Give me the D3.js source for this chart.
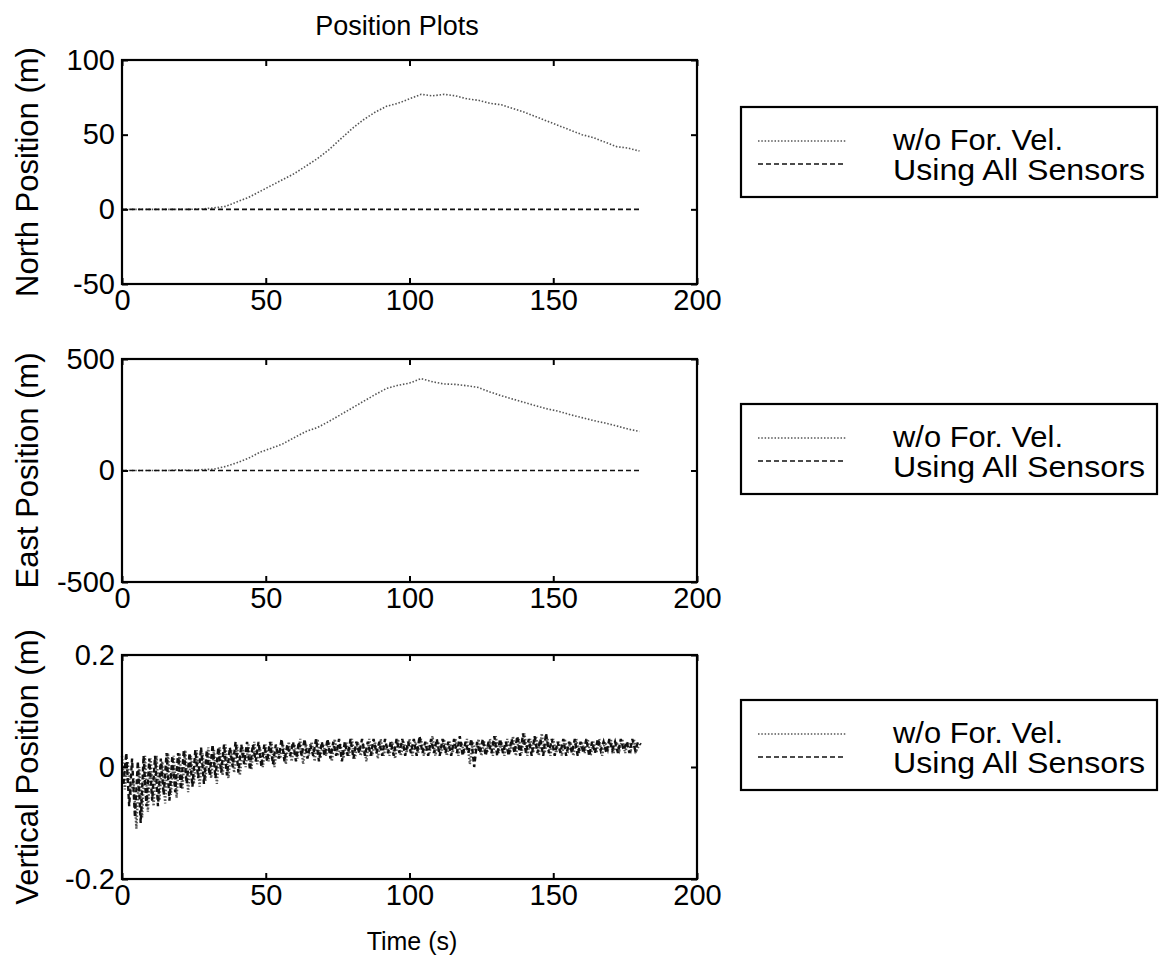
<!DOCTYPE html>
<html>
<head>
<meta charset="utf-8">
<script src="https://cdn.jsdelivr.net/npm/d3@7"></script>
<style>
  html, body { margin: 0; padding: 0; background: #fff; }
  svg { display: block; }
  text { font-family: "Liberation Sans", Arial, Helvetica, sans-serif; fill: #000; }
</style>
</head>
<body>
<svg id="chart" width="1159" height="970"></svg>
<script>
// ---- data -------------------------------------------------------------
const timeTicks = [0, 50, 100, 150, 200];

// North / East position, sampled every 4 s from 0 to 180 s
const posStep = 4;
const northNoFwdVel = [0, 0, 0, 0, 0, 0, 0, 0.3, 1, 2, 5, 8, 12, 16, 20, 24, 29, 34, 40, 47,
  54, 60, 65, 69, 71, 74, 77, 76, 77, 76, 74, 73, 71, 70, 67.5, 65, 62, 59, 56, 53,
  50, 48, 45, 42, 41, 39];
const eastNoFwdVel = [0, 0, 0, 0, 0, 3, 0, 4, 6, 18, 35, 55, 82, 100, 120, 148, 175, 193, 220, 250,
  280, 310, 340, 368, 382, 392, 412, 398, 388, 386, 380, 372, 352, 335, 320, 305, 290, 276, 265, 250,
  237, 224, 213, 200, 186, 175];
// Full-sensor solution stays on zero
const allSensorTime = [0, 180];
const northAllSensors = [0, 0];
const eastAllSensors = [0, 0];

// Vertical position, sampled every 1 s from 0 to 180 s
const vertStep = 1;
const vertNoFwdVel = [
  0.02, -0.04, 0.01, -0.05, -0.02, -0.11, 0.00, -0.09, 0.02, -0.08,
  0.015, -0.07, 0.02, -0.06, 0.01, -0.065, 0.025, -0.05, 0.02, -0.055,
  0.025, -0.04, 0.03, -0.045, 0.02, -0.03, 0.03, -0.035, 0.025, -0.025,
  0.035, -0.02, 0.03, -0.03, 0.035, -0.015, 0.04, -0.02, 0.03, -0.01,
  0.04, -0.015, 0.035, 0.0, 0.04, -0.005, 0.045, 0.005, 0.035, 0.0,
  0.04, 0.01, 0.045, 0.0, 0.035, 0.015, 0.04, 0.005, 0.045, 0.01,
  0.04, 0.015, 0.05, 0.005, 0.04, 0.02, 0.045, 0.01, 0.05, 0.015,
  0.04, 0.02, 0.045, 0.01, 0.05, 0.02, 0.04, 0.015, 0.045, 0.02,
  0.05, 0.015, 0.045, 0.02, 0.04, 0.01, 0.05, 0.02, 0.045, 0.015,
  0.05, 0.02, 0.04, 0.02, 0.045, 0.015, 0.05, 0.02, 0.045, 0.025,
  0.05, 0.02, 0.045, 0.025, 0.05, 0.02, 0.045, 0.025, 0.055, 0.02,
  0.045, 0.025, 0.05, 0.02, 0.045, 0.025, 0.05, 0.02, 0.045, 0.025,
  0.05, 0.005, 0.045, 0.025, 0.05, 0.02, 0.045, 0.025, 0.05, 0.02,
  0.055, 0.025, 0.045, 0.02, 0.05, 0.025, 0.055, 0.02, 0.05, 0.025,
  0.06, 0.02, 0.05, 0.025, 0.055, 0.02, 0.06, 0.025, 0.05, 0.02,
  0.05, 0.025, 0.045, 0.02, 0.05, 0.025, 0.045, 0.02, 0.05, 0.025,
  0.045, 0.025, 0.05, 0.02, 0.045, 0.025, 0.05, 0.02, 0.045, 0.03,
  0.05, 0.025, 0.045, 0.03, 0.05, 0.025, 0.045, 0.03, 0.05, 0.03,
  0.04];
const vertAllSensors = [
  -0.03, 0.025, -0.07, 0.015, -0.09, 0.01, -0.1, 0.02, -0.07, 0.015,
  -0.06, 0.02, -0.07, 0.015, -0.05, 0.025, -0.06, 0.02, -0.045, 0.025,
  -0.04, 0.03, -0.03, 0.025, -0.035, 0.03, -0.02, 0.035, -0.03, 0.03,
  -0.015, 0.04, -0.02, 0.035, -0.01, 0.04, -0.015, 0.035, 0.0, 0.045,
  -0.01, 0.04, 0.005, 0.045, -0.005, 0.04, 0.01, 0.045, 0.0, 0.04,
  0.01, 0.045, 0.005, 0.04, 0.015, 0.05, 0.01, 0.04, 0.02, 0.045,
  0.01, 0.045, 0.02, 0.05, 0.015, 0.04, 0.02, 0.05, 0.01, 0.045,
  0.02, 0.05, 0.015, 0.045, 0.02, 0.05, 0.01, 0.045, 0.02, 0.05,
  0.015, 0.045, 0.025, 0.05, 0.02, 0.045, 0.02, 0.05, 0.025, 0.045,
  0.02, 0.05, 0.025, 0.045, 0.02, 0.05, 0.025, 0.05, 0.02, 0.045,
  0.025, 0.05, 0.02, 0.055, 0.025, 0.045, 0.02, 0.05, 0.025, 0.05,
  0.02, 0.05, 0.025, 0.045, 0.02, 0.05, 0.025, 0.055, 0.02, 0.045,
  0.025, 0.05, 0.0, 0.045, 0.025, 0.05, 0.02, 0.045, 0.025, 0.055,
  0.02, 0.05, 0.025, 0.045, 0.02, 0.05, 0.025, 0.055, 0.02, 0.06,
  0.025, 0.05, 0.02, 0.055, 0.025, 0.05, 0.02, 0.06, 0.025, 0.05,
  0.02, 0.045, 0.025, 0.05, 0.02, 0.045, 0.025, 0.05, 0.02, 0.045,
  0.025, 0.05, 0.02, 0.045, 0.025, 0.05, 0.03, 0.045, 0.025, 0.05,
  0.03, 0.045, 0.025, 0.05, 0.03, 0.045, 0.025, 0.05, 0.03, 0.045,
  0.04];

const legendLabels = ["w/o For. Vel.", "Using All Sensors"];

const panels = [
  { ylabel: "North Position (m)", yDomain: [-50, 100], yTicks: [-50, 0, 50, 100], fmt: d => d,
    top: 60, bottom: 284, lgTop: 107, lineW: 1.6,
    series: [
      { t: northNoFwdVel.map((_, i) => i * posStep), v: northNoFwdVel, style: "gray" },
      { t: allSensorTime, v: northAllSensors, style: "black" }
    ] },
  { ylabel: "East Position (m)", yDomain: [-500, 500], yTicks: [-500, 0, 500], fmt: d => d,
    top: 359, bottom: 582, lgTop: 404, lineW: 1.6,
    series: [
      { t: eastNoFwdVel.map((_, i) => i * posStep), v: eastNoFwdVel, style: "gray" },
      { t: allSensorTime, v: eastAllSensors, style: "black" }
    ] },
  { ylabel: "Vertical Position (m)", yDomain: [-0.2, 0.2], yTicks: [-0.2, 0, 0.2], fmt: d => (d === 0 ? "0" : d.toFixed(1)),
    top: 655, bottom: 879, lgTop: 700, lineW: 2.4,
    series: [
      { t: vertNoFwdVel.map((_, i) => i * vertStep), v: vertNoFwdVel, style: "gray" },
      { t: vertAllSensors.map((_, i) => i * vertStep + 0.5), v: vertAllSensors, style: "black" }
    ] }
];

// ---- drawing ----------------------------------------------------------
const svg = d3.select("#chart");
const left = 122, right = 697;
const TICK_FONT = 29, LABEL_FONT = 31, LEGEND_FONT = 29;

const lineStyles = {
  gray:  { stroke: "#555", dash: "1.5,1.8" },
  black: { stroke: "#111", dash: "5,3" }
};

const x = d3.scaleLinear().domain([0, 200]).range([left, right]);

panels.forEach(p => {
  const y = d3.scaleLinear().domain(p.yDomain).range([p.bottom, p.top]);
  const g = svg.append("g");

  // series
  p.series.forEach(s => {
    const st = lineStyles[s.style];
    const line = d3.line().x((d, i) => x(s.t[i])).y(d => y(d));
    g.append("path")
      .attr("d", line(s.v))
      .attr("fill", "none")
      .attr("stroke", st.stroke)
      .attr("stroke-width", p.lineW)
      .attr("stroke-dasharray", st.dash);
  });

  // inward ticks on all four sides
  const tickLen = 6;
  const xb = d3.axisBottom(x).tickValues(timeTicks).tickSize(-tickLen).tickFormat(d => d).tickPadding(5);
  const xt = d3.axisTop(x).tickValues(timeTicks).tickSize(-tickLen).tickFormat("");
  const yl = d3.axisLeft(y).tickValues(p.yTicks).tickSize(-tickLen).tickFormat(p.fmt).tickPadding(7);
  const yr = d3.axisRight(y).tickValues(p.yTicks).tickSize(-tickLen).tickFormat("");

  const styleAxis = sel => {
    sel.select(".domain").remove();
    sel.selectAll(".tick line").attr("stroke", "#000").attr("stroke-width", 2);
    sel.selectAll(".tick text").attr("font-size", TICK_FONT).attr("fill", "#000")
      .attr("font-family", "Liberation Sans, Arial, sans-serif");
  };
  g.append("g").attr("transform", `translate(0,${p.bottom})`).call(xb).call(styleAxis);
  g.append("g").attr("transform", `translate(0,${p.top})`).call(xt).call(styleAxis);
  g.append("g").attr("transform", `translate(${left},0)`).call(yl).call(styleAxis);
  g.append("g").attr("transform", `translate(${right},0)`).call(yr).call(styleAxis);

  // axes box
  g.append("rect")
    .attr("x", left).attr("y", p.top)
    .attr("width", right - left).attr("height", p.bottom - p.top)
    .attr("fill", "none").attr("stroke", "#000").attr("stroke-width", 2.2);

  // y label
  g.append("text")
    .attr("transform", `translate(38,${(p.top + p.bottom) / 2}) rotate(-90)`)
    .attr("text-anchor", "middle")
    .attr("font-size", LABEL_FONT)
    .text(p.ylabel);

  // legend
  const lgL = 741, lgR = 1157, lgH = 90;
  const lg = svg.append("g");
  lg.append("rect")
    .attr("x", lgL).attr("y", p.lgTop).attr("width", lgR - lgL).attr("height", lgH)
    .attr("fill", "#fff").attr("stroke", "#000").attr("stroke-width", 2.2);
  ["gray", "black"].forEach((k, i) => {
    const st = lineStyles[k];
    const ly = p.lgTop + 34 + i * 23;
    lg.append("line")
      .attr("x1", 758).attr("x2", 846).attr("y1", ly).attr("y2", ly)
      .attr("stroke", st.stroke).attr("stroke-width", 1.6).attr("stroke-dasharray", st.dash);
    lg.append("text")
      .attr("x", 893).attr("y", p.lgTop + 43 + i * 30)
      .attr("font-size", LEGEND_FONT)
      .attr("textLength", i === 0 ? 170 : 252)
      .attr("lengthAdjust", "spacingAndGlyphs")
      .text(legendLabels[i]);
  });
});

// title and time axis label
svg.append("text").attr("x", 397).attr("y", 35).attr("text-anchor", "middle")
  .attr("font-size", 27).text("Position Plots");
svg.append("text").attr("x", 412).attr("y", 950).attr("text-anchor", "middle")
  .attr("font-size", 25).text("Time (s)");
</script>
</body>
</html>
